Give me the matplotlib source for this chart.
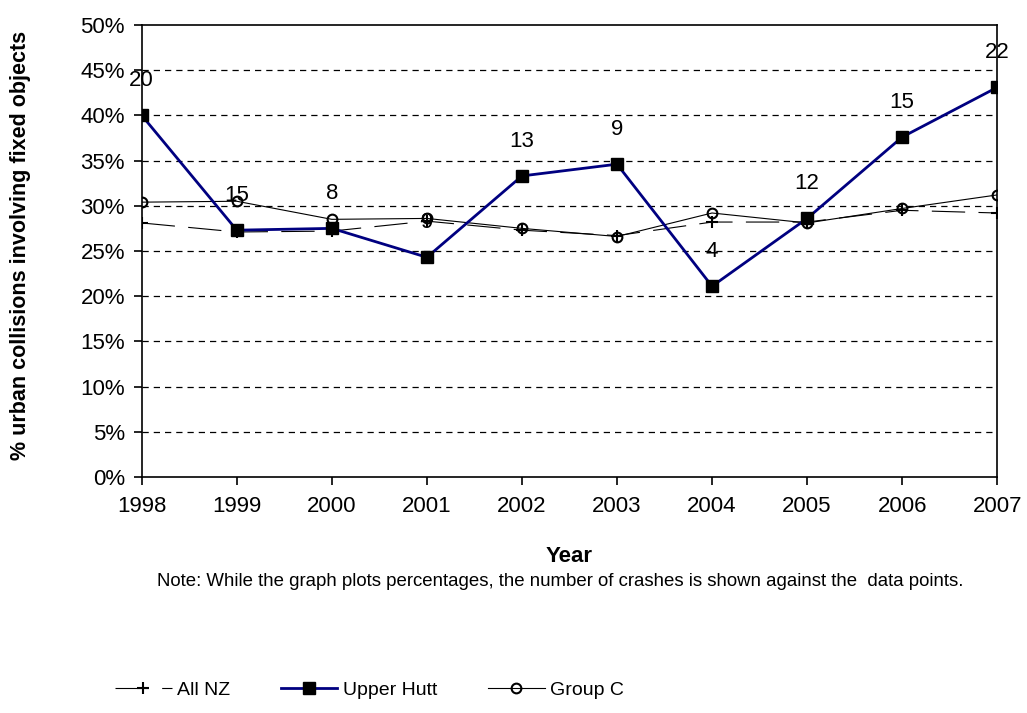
import matplotlib
matplotlib.use("Agg")
import matplotlib.pyplot as plt
from matplotlib.ticker import PercentFormatter

plt.rcParams["font.family"] = ["Liberation Sans", "DejaVu Sans"]

# --- Data ---
years = [1998, 1999, 2000, 2001, 2002, 2003, 2004, 2005, 2006, 2007]
all_nz = [28.1, 27.1, 27.2, 28.3, 27.3, 26.7, 28.2, 28.2, 29.5, 29.2]
upper_hutt = [40.0, 27.3, 27.5, 24.3, 33.3, 34.6, 21.1, 28.6, 37.6, 43.1]
group_c = [30.4, 30.5, 28.5, 28.6, 27.5, 26.6, 29.2, 28.1, 29.7, 31.2]
crash_counts = [20, 15, 8, 9, 13, 9, 4, 12, 15, 22]

fig = plt.figure(figsize=(10.27, 7.13), dpi=100)
ax = fig.add_axes([0.138, 0.331, 0.833, 0.634])

# gridlines
for v in range(5, 50, 5):
    ax.axhline(v, color="black", lw=0.9, ls=(0, (5, 4)), zorder=0)

ax.plot(years, all_nz, color="black", lw=0.8, ls=(0, (30, 12)),
        marker="+", markersize=9, markeredgewidth=1.5, label="All NZ", zorder=2)
ax.plot(years, upper_hutt, color="#000080", lw=2, marker="s", markersize=8,
        markerfacecolor="black", markeredgecolor="black", label="Upper Hutt", zorder=3)
ax.plot(years, group_c, color="black", lw=0.8, marker="o", markersize=7,
        markerfacecolor="none", markeredgewidth=1.5, label="Group C", zorder=2)

for x, y, n in zip(years, upper_hutt, crash_counts):
    ax.annotate(str(n), (x, y), xytext=(0, 25), textcoords="offset points",
                ha="center", va="center", fontsize=16, zorder=4)

ax.set_xlim(years[0], years[-1])
ax.set_ylim(0, 50)
ax.set_xticks(years)
ax.set_yticks(range(0, 51, 5))
ax.yaxis.set_major_formatter(PercentFormatter(decimals=0))
ax.tick_params(labelsize=16, length=6, width=1.2, direction="out")
ax.tick_params(axis="x", pad=8)
ax.tick_params(axis="y", pad=6)
for s in ax.spines.values():
    s.set_linewidth(1.2)

ax.set_xlabel("Year", fontsize=16, fontweight="bold")
ax.xaxis.set_label_coords(0.5, -0.152)
ax.set_ylabel("% urban collisions involving fixed objects", fontsize=15.5,
              fontweight="bold")
ax.yaxis.set_label_coords(-0.129, 0.513)

fig.text(0.545, 0.184,
         "Note: While the graph plots percentages, the number of crashes is shown against the  data points.",
         ha="center", va="center", fontsize=13.4)

fig.legend(loc="center", bbox_to_anchor=(0.36, 0.032), ncol=3, frameon=False,
           fontsize=14, handlelength=2.9, columnspacing=2.6, handletextpad=0.3)

fig.savefig("out.png", dpi=100)
